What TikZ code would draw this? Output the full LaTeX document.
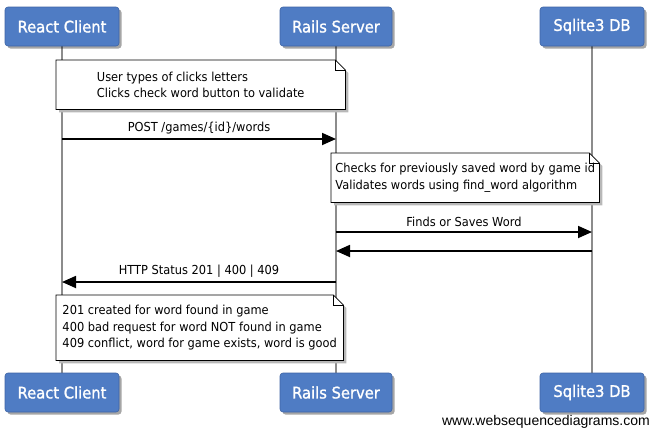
\documentclass[tikz,border=0pt]{standalone}
\usepackage{fontspec}
\setmainfont{DejaVu Sans}[FakeStretch=0.92]
\newfontfamily\titlefont{DejaVu Sans}[FakeStretch=0.92, FakeBold=1.2]
\newfontfamily\footfont{Liberation Sans}
\usetikzlibrary{arrows.meta,shadows,calc}
\pgfdeclarelayer{lifelayer}
\pgfdeclarelayer{notelayer}
\pgfsetlayers{lifelayer,notelayer,main}
\definecolor{partblue}{RGB}{79,124,196}
\definecolor{partedge}{RGB}{62,100,165}
\definecolor{lifegray}{RGB}{140,140,140}
\begin{document}
\begin{tikzpicture}[x=1pt,y=-1pt,
  part/.style={rectangle, rounded corners=3pt, fill=partblue, draw=partedge, line width=0.6pt,
    text=white, font=\titlefont\fontsize{16}{18}\selectfont, minimum height=39pt, inner sep=0pt,
    drop shadow={shadow xshift=2.5pt, shadow yshift=-2.5pt, fill=black, opacity=0.35}},
  life/.style={draw=lifegray, line width=1.6pt},
  msg/.style={draw=black, line width=1.8pt, -{Triangle[length=14pt,width=12pt]}},
  lbl/.style={font=\fontsize{12.4}{15}\selectfont, inner sep=0pt},
  note/.style={align=left, font=\fontsize{12.4}{16.5}\selectfont, inner sep=0pt, anchor=north west},
  noteline/.style={draw=black, line width=0.8pt},
  noteshadow/.style={fill=black!28}
]
\useasboundingbox (0,0) rectangle (656,437);

% participants
\node[part, minimum width=114pt] (rcT) at (62,26.5) {React Client};
\node[part, minimum width=112pt] (rsT) at (336,26.5) {Rails Server};
\node[part, minimum width=104pt] (dbT) at (592,26.5) {Sqlite3 DB};
\node[part, minimum width=114pt] (rcB) at (62,392.5) {React Client};
\node[part, minimum width=112pt] (rsB) at (336,392.5) {Rails Server};
\node[part, minimum width=104pt] (dbB) at (592,392.5) {Sqlite3 DB};

\begin{pgfonlayer}{lifelayer}
\draw[life] (rcT) -- (rcB);
\draw[life] (rsT) -- (rsB);
\draw[life] (dbT) -- (dbB);
\end{pgfonlayer}

% notes
\node[note, minimum width=289pt, minimum height=49pt] (n1) at (56,60)
  {User types of clicks letters\\Clicks check word button to validate};
\node[note, minimum width=268pt, minimum height=49pt] (n2) at (331,153)
  {Checks for previously saved word by game id\\Validates words using find\_word algorithm};
\node[note, minimum width=287pt, minimum height=65pt] (n3) at (56,295)
  {201 created for word found in game\\400 bad request for word NOT found in game\\409 conflict, word for game exists, word is good};

\begin{pgfonlayer}{notelayer}
\foreach \n in {n1,n2,n3} {
  \fill[noteshadow] ($(\n.north west)+(3,3)$) -- ($(\n.north east)+(-7,3)$) -- ($(\n.north east)+(3,13)$)
     -- ($(\n.south east)+(3,3)$) -- ($(\n.south west)+(3,3)$) -- cycle;
  \draw[noteline, fill=white] (\n.north west) -- ($(\n.north east)+(-10,0)$) -- ($(\n.north east)+(0,10)$)
     -- (\n.south east) -- (\n.south west) -- cycle;
  \draw[noteline, line width=0.6pt] ($(\n.north east)+(-10,0)$) -- ($(\n.north east)+(-10,10)$) -- ($(\n.north east)+(0,10)$);
}
\end{pgfonlayer}

% message anchor points on lifelines
\coordinate (m1a) at (62,139);  \coordinate (m1b) at (336,139);
\coordinate (m2a) at (336,232); \coordinate (m2b) at (592,232);
\coordinate (m3a) at (592,251); \coordinate (m3b) at (336,251);
\coordinate (m4a) at (336,282); \coordinate (m4b) at (62,282);

\draw[msg] (m1a) -- node[lbl, above=4pt] {POST /games/\{id\}/words} (m1b);
\draw[msg] (m2a) -- node[lbl, above=4pt] {Finds or Saves Word} (m2b);
\draw[msg] (m3a) -- (m3b);
\draw[msg] (m4a) -- node[lbl, above=4pt] {HTTP Status 201 | 400 | 409} (m4b);

\node[anchor=base east, inner sep=0pt, font=\footfont\fontsize{14}{16}\selectfont] (foot) at (650,425) {www.websequencediagrams.com};
\end{tikzpicture}
\end{document}
